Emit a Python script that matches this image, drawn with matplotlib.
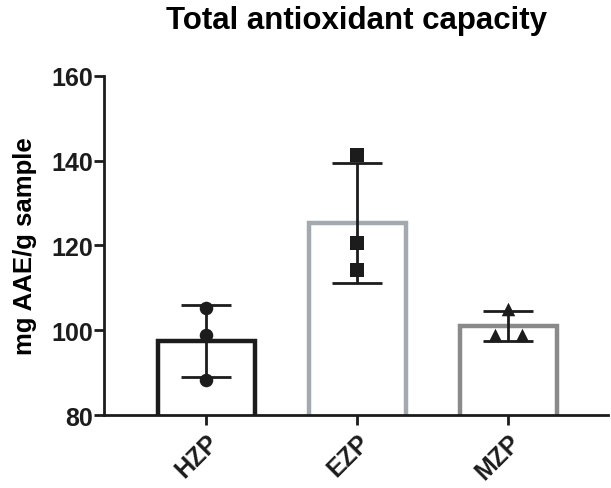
import numpy as np
import matplotlib.pyplot as plt

plt.rcParams['font.family'] = ['Liberation Sans', 'DejaVu Sans']
plt.rcParams['font.weight'] = 'bold'

groups = ['HZP', 'EZP', 'MZP']
hzp = [88.3, 98.9, 105.2]
ezp = [141.3, 120.6, 114.2]
mzp = [105.0, 98.9, 98.9]
samples = [hzp, ezp, mzp]

edge_colors = ['#1c1c1c', '#a4a9af', '#8a8a8a']
markers = ['o', 's', '^']
# small horizontal offsets so overlapping points are visible
jitter = [[0, 0, 0], [0, 0, 0], [0, -0.09, 0.09]]

means = [np.mean(s) for s in samples]
sds = [np.std(s, ddof=1) for s in samples]
x = np.arange(len(groups))

fig = plt.figure(figsize=(6.11, 4.89), dpi=100)
ax = fig.add_axes([0.170, 0.149, 0.825, 0.694])

ax.bar(x, means, width=0.64, bottom=0, color='white',
       edgecolor=edge_colors, linewidth=3.2, zorder=1)
ax.errorbar(x, means, yerr=sds, fmt='none', ecolor='#1c1c1c',
            elinewidth=2, capsize=18, capthick=2, zorder=3)
for i, s in enumerate(samples):
    ax.scatter(x[i] + np.array(jitter[i]), s, marker=markers[i], s=95,
               color='#1c1c1c', zorder=4, linewidths=0)

ax.set_ylim(80, 160)
ax.set_xlim(-0.68, 2.66)
ax.set_yticks([80, 100, 120, 140, 160])
ax.set_xticks(x)
ax.set_xticklabels(groups, rotation=45, ha='right', rotation_mode='anchor')

for side in ['top', 'right']:
    ax.spines[side].set_visible(False)
for side in ['left', 'bottom']:
    ax.spines[side].set_linewidth(2)
    ax.spines[side].set_color('#1c1c1c')
ax.tick_params(axis='both', width=2, length=7, color='#1c1c1c',
               labelsize=18, labelcolor='#1c1c1c')
ax.tick_params(axis='y', pad=1)

ax.set_ylabel('mg AAE/g sample', fontsize=18.5, fontweight='bold', labelpad=10)
fig.suptitle('Total antioxidant capacity', fontsize=22.5, fontweight='bold',
             x=0.583, y=0.987)

fig.savefig('out.png', dpi=100)
